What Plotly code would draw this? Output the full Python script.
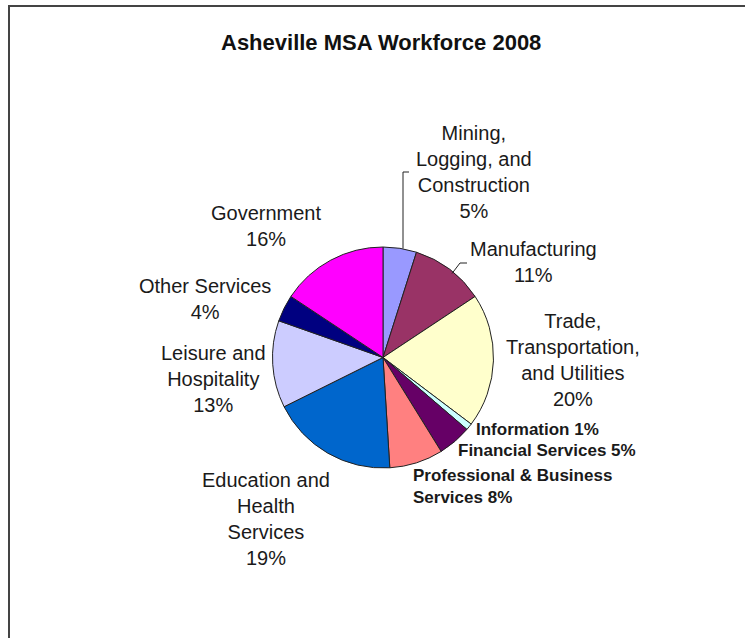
import plotly.graph_objects as go

W, H = 745, 638

# Sectors, clockwise from 12 o'clock
sectors = [
    "Mining,<br>Logging, and<br>Construction",
    "Manufacturing",
    "Trade,<br>Transportation,<br>and Utilities",
    "Information",
    "Financial Services",
    "Professional & Business<br>Services",
    "Education and<br>Health<br>Services",
    "Leisure and<br>Hospitality",
    "Other Services",
    "Government",
]
shares = [5, 11, 20, 1, 5, 8, 19, 13, 4, 16]
colors = ["#9999FF", "#993366", "#FFFFCC", "#CCFFFF", "#660066",
          "#FF8080", "#0066CC", "#CCCCFF", "#000080", "#FF00FF"]

# Label placement in pixels (x, y of text anchor), anchor, alignment, style
label_pos = [
    (474, 171.5, "center", "center", "normal"),
    (533, 262, "center", "center", "normal"),
    (573, 360, "center", "center", "normal"),
    (537, 429, "center", "center", "small"),
    (547, 450, "center", "center", "small"),
    (411, 486, "left", "left", "small"),
    (266, 519, "center", "center", "normal"),
    (213.5, 378.5, "center", "center", "normal"),
    (205, 299, "center", "center", "normal"),
    (266, 226.5, "center", "center", "normal"),
]
# Separator between sector name and its percentage
joiners = ["<br>", "<br>", "<br>", " ", " ", " ", "<br>", "<br>", "<br>", "<br>"]

cx, cy, r = 383, 357.5, 110.5

def px(x):
    return x / W

def py(y):
    return 1 - y / H

fig = go.Figure()
fig.add_trace(go.Pie(
    labels=[s.replace("<br>", " ") for s in sectors],
    values=shares,
    sort=False,
    direction="clockwise",
    rotation=0,
    textinfo="none",
    hoverinfo="label+percent",
    marker=dict(colors=colors, line=dict(color="#222222", width=1)),
    domain=dict(x=[px(cx - r), px(cx + r)], y=[py(cy + r), py(cy - r)]),
    showlegend=False,
))

annotations = [dict(
    text="Asheville MSA Workforce 2008",
    x=px(381), y=py(42), xref="paper", yref="paper",
    xanchor="center", yanchor="middle", showarrow=False,
    font=dict(family="Liberation Sans, Arial, sans-serif", size=22,
              color="#111111", weight="bold"),
)]

for name, val, j, (lx, ly, xa, al, style) in zip(sectors, shares, joiners, label_pos):
    if style == "small":
        font = dict(family="Liberation Sans, Arial, sans-serif", size=17,
                    color="#1a1a1a", weight="bold")
    else:
        font = dict(family="Liberation Sans, Arial, sans-serif", size=20,
                    color="#1a1a1a")
    annotations.append(dict(
        text=f"{name}{j}{val}%",
        x=px(lx), y=py(ly), xref="paper", yref="paper",
        xanchor=xa, yanchor="middle", align=al, showarrow=False,
        font=font,
    ))

shapes = [
    # outer chart-area border
    dict(type="rect", xref="paper", yref="paper",
         x0=px(9), y0=py(H + 10), x1=px(W + 10), y1=py(6),
         line=dict(color="#444444", width=2), fillcolor="rgba(0,0,0,0)"),
    # leader lines
    dict(type="path", xref="paper", yref="paper",
         path=f"M {px(409)},{py(172)} L {px(403)},{py(172)} L {px(403)},{py(248.5)}",
         line=dict(color="#222222", width=1)),
    dict(type="path", xref="paper", yref="paper",
         path=f"M {px(467)},{py(263)} L {px(460)},{py(263)} L {px(452)},{py(273.5)}",
         line=dict(color="#222222", width=1)),
]

fig.update_layout(
    width=W, height=H,
    margin=dict(l=0, r=0, t=0, b=0),
    paper_bgcolor="white",
    plot_bgcolor="white",
    annotations=annotations,
    shapes=shapes,
)

fig.write_html("out.html")
